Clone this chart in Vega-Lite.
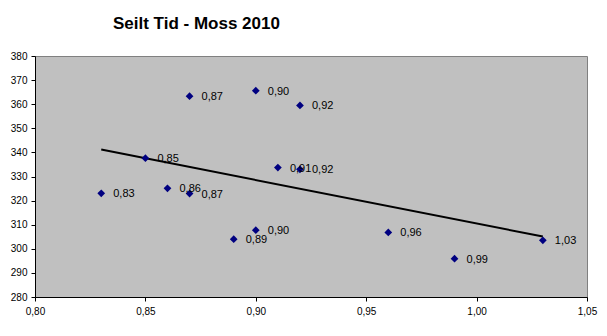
{
  "$schema": "https://vega.github.io/schema/vega-lite/v6.json",
  "width": 552,
  "height": 241,
  "autosize": {"type": "none"},
  "padding": {"left": 35, "top": 56, "right": 20, "bottom": 39},
  "background": "white",
  "config": {
    "locale": {"number": {"decimal": ",", "thousands": ".", "grouping": [3], "currency": ["", " €"]}},
    "view": {"fill": "#C0C0C0", "stroke": "#808080", "strokeWidth": 1},
    "font": "Liberation Sans"
  },
  "title": {
    "text": "Seilt Tid - Moss 2010",
    "anchor": "start",
    "frame": "group",
    "dx": 78,
    "offset": 18,
    "fontSize": 17,
    "fontWeight": "bold",
    "font": "Liberation Sans",
    "color": "black"
  },
  "data": {
    "values": [
      {"x": 0.83, "y": 323.0},
      {"x": 0.85, "y": 337.6},
      {"x": 0.86, "y": 325.1},
      {"x": 0.87, "y": 322.9},
      {"x": 0.87, "y": 363.3},
      {"x": 0.89, "y": 304.0},
      {"x": 0.90, "y": 365.6},
      {"x": 0.90, "y": 307.7},
      {"x": 0.91, "y": 333.7},
      {"x": 0.92, "y": 359.5},
      {"x": 0.92, "y": 333.0},
      {"x": 0.96, "y": 306.8},
      {"x": 0.99, "y": 295.9},
      {"x": 1.03, "y": 303.5}
    ]
  },
  "encoding": {
    "x": {
      "field": "x", "type": "quantitative",
      "scale": {"domain": [0.8, 1.05], "nice": false, "zero": false},
      "axis": {"title": null, "values": [0.8, 0.85, 0.9, 0.95, 1.0, 1.05], "format": ".2f", "grid": false,
               "domainColor": "black", "tickColor": "black", "tickSize": 4, "labelFontSize": 10, "labelColor": "black",
               "labelPadding": 5, "labelFlush": false}
    },
    "y": {
      "field": "y", "type": "quantitative",
      "scale": {"domain": [280, 380], "nice": false, "zero": false},
      "axis": {"title": null, "values": [280, 290, 300, 310, 320, 330, 340, 350, 360, 370, 380], "grid": false,
               "domainColor": "black", "tickColor": "black", "tickSize": 4, "labelFontSize": 10, "labelColor": "black",
               "labelPadding": 4, "labelFlush": false}
    }
  },
  "layer": [
    {
      "transform": [{"regression": "y", "on": "x"}],
      "mark": {"type": "line", "color": "black", "strokeWidth": 2}
    },
    {
      "mark": {"type": "point", "shape": "diamond", "filled": true, "color": "#000080", "size": 60, "opacity": 1}
    },
    {
      "mark": {"type": "text", "align": "left", "baseline": "middle", "dx": 12, "dy": 1, "fontSize": 11, "color": "black"},
      "encoding": {"text": {"field": "x", "type": "quantitative", "format": ".2f"}}
    }
  ]
}
